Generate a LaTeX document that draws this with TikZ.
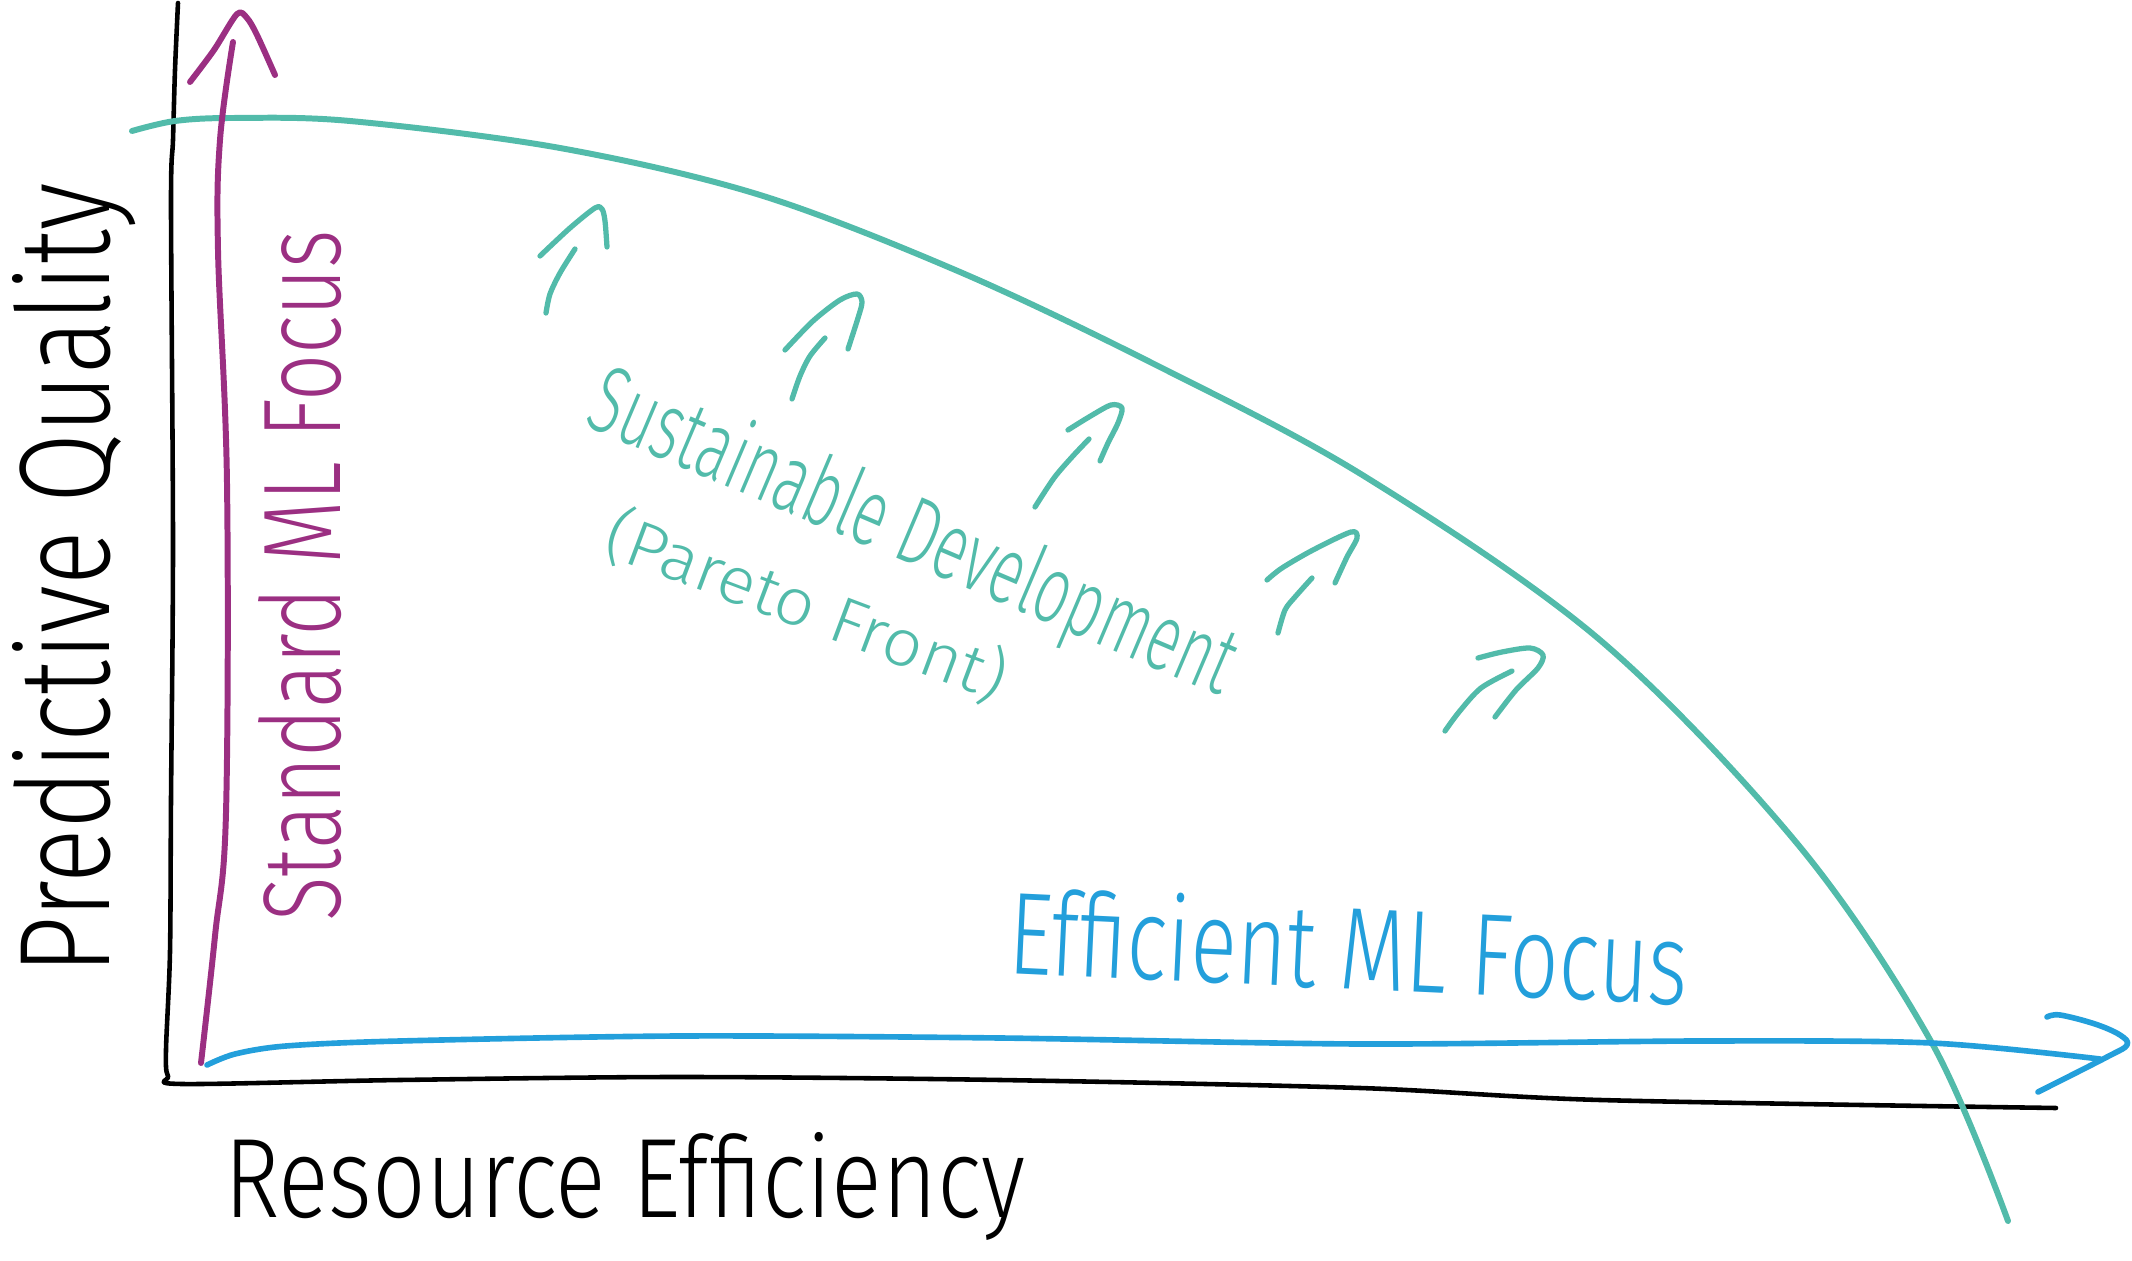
\documentclass[tikz,border=0pt]{standalone}
\usepackage{fontspec}
\usepackage{graphicx}
\newfontfamily\hand{Fira Sans Light}
\definecolor{tealc}{HTML}{52BBAA}
\definecolor{purp}{HTML}{9B2F82}
\definecolor{bluec}{HTML}{239FDB}
\begin{document}
\begin{tikzpicture}[x=0.01cm,y=-0.01cm, line cap=round, line join=round,
  axisline/.style={black, line width=1.3pt},
  pareto/.style={tealc, line width=1.7pt},
  hintarrow/.style={tealc, line width=1.5pt},
  blueline/.style={bluec, line width=1.6pt},
  purpline/.style={purp, line width=1.7pt},
  txt/.style={inner sep=0pt, outer sep=0pt, font=\hand},
]
\useasboundingbox (0,0) rectangle (2132,1261);
% axes
\draw[axisline] plot[smooth, tension=0.5] coordinates {(178,3) (175,70) (173,140) (171,204) (173,544) (171,800) (170,952) (166,1050) (168,1076) (182,1084) (400,1080) (680,1077) (1000,1080) (1360,1088) (1600,1100) (2056,1108)};
% pareto front
\draw[pareto] plot[smooth, tension=0.55] coordinates {(132,131) (175,121) (233,118) (350,121) (560,148) (760,195) (960,272) (1156,365) (1364,476) (1600,640) (1800,847) (1933,1045) (2008,1221)};
% purple arrow
\draw[purpline] plot[smooth, tension=0.6] coordinates {(201,1063) (215,936) (226,813) (227,483) (218,250) (220,140) (233,42)};
\draw[purpline] plot[smooth, tension=0.5] coordinates {(190,82) (214,50) (237,14) (247,18) (257,35) (275,75)};
% blue arrow
\draw[blueline] plot[smooth, tension=0.5] coordinates {(207,1065) (235,1054) (286,1046) (400,1041) (680,1036) (1000,1038) (1360,1044) (1700,1041) (1931,1043) (2100,1059)};
\draw[blueline] plot[smooth, tension=0.6] coordinates {(2047,1017) (2060,1015) (2095,1024) (2120,1035) (2127,1045) (2107,1057) (2038,1092)};
% small teal arrows
\draw[hintarrow] plot[smooth] coordinates {(546,313) (550,294) (560,273) (575,249)};
\draw[hintarrow] plot[smooth] coordinates {(540,256) (570,228) (595,208) (602,209) (605,221) (607,247)};
\draw[hintarrow] plot[smooth] coordinates {(792,399) (800,376) (810,356) (825,338)};
\draw[hintarrow] plot[smooth] coordinates {(785,350) (813,321) (840,300) (857,294) (862,302) (858,318) (848,349)};
\draw[hintarrow] plot[smooth] coordinates {(1035,507) (1054,478) (1072,457) (1089,439)};
\draw[hintarrow] plot[smooth] coordinates {(1068,430) (1089,417) (1111,405) (1122,408) (1118,423) (1108,443) (1100,461)};
\draw[hintarrow] plot[smooth] coordinates {(1278,633) (1285,610) (1295,597) (1312,578)};
\draw[hintarrow] plot[smooth] coordinates {(1267,580) (1282,568) (1313,550) (1351,532) (1357,538) (1347,557) (1335,583)};
\draw[hintarrow] plot[smooth] coordinates {(1445,731) (1459,712) (1481,688) (1512,671)};
\draw[hintarrow] plot[smooth] coordinates {(1478,658) (1502,652) (1530,648) (1543,655) (1538,668) (1516,690) (1495,717)};
% labels
\node[txt, black, rotate=90, anchor=base west] (pq) at (110,974) {\resizebox{7.90cm}{0.97cm}{Predictive Quality}};
\node[txt, black, anchor=base west] (re) at (224,1217) {\resizebox{8.01cm}{0.85cm}{Resource Efficiency}};
\node[txt, purp, rotate=90, anchor=base west] (sml) at (340,922) {\resizebox{6.91cm}{0.82cm}{Standard ML Focus}};
\node[txt, tealc, rotate=-23, anchor=base west] (sd) at (582,425) {\resizebox{6.93cm}{0.72cm}{Sustainable Development}};
\node[txt, tealc, rotate=-20.6, anchor=base west] (pf) at (600,553) {\resizebox{4.24cm}{0.55cm}{(Pareto Front)}};
\node[txt, bluec, rotate=-2.7, anchor=base west] (eml) at (1007,973) {\resizebox{6.80cm}{0.88cm}{Efficient ML Focus}};
\end{tikzpicture}
\end{document}
